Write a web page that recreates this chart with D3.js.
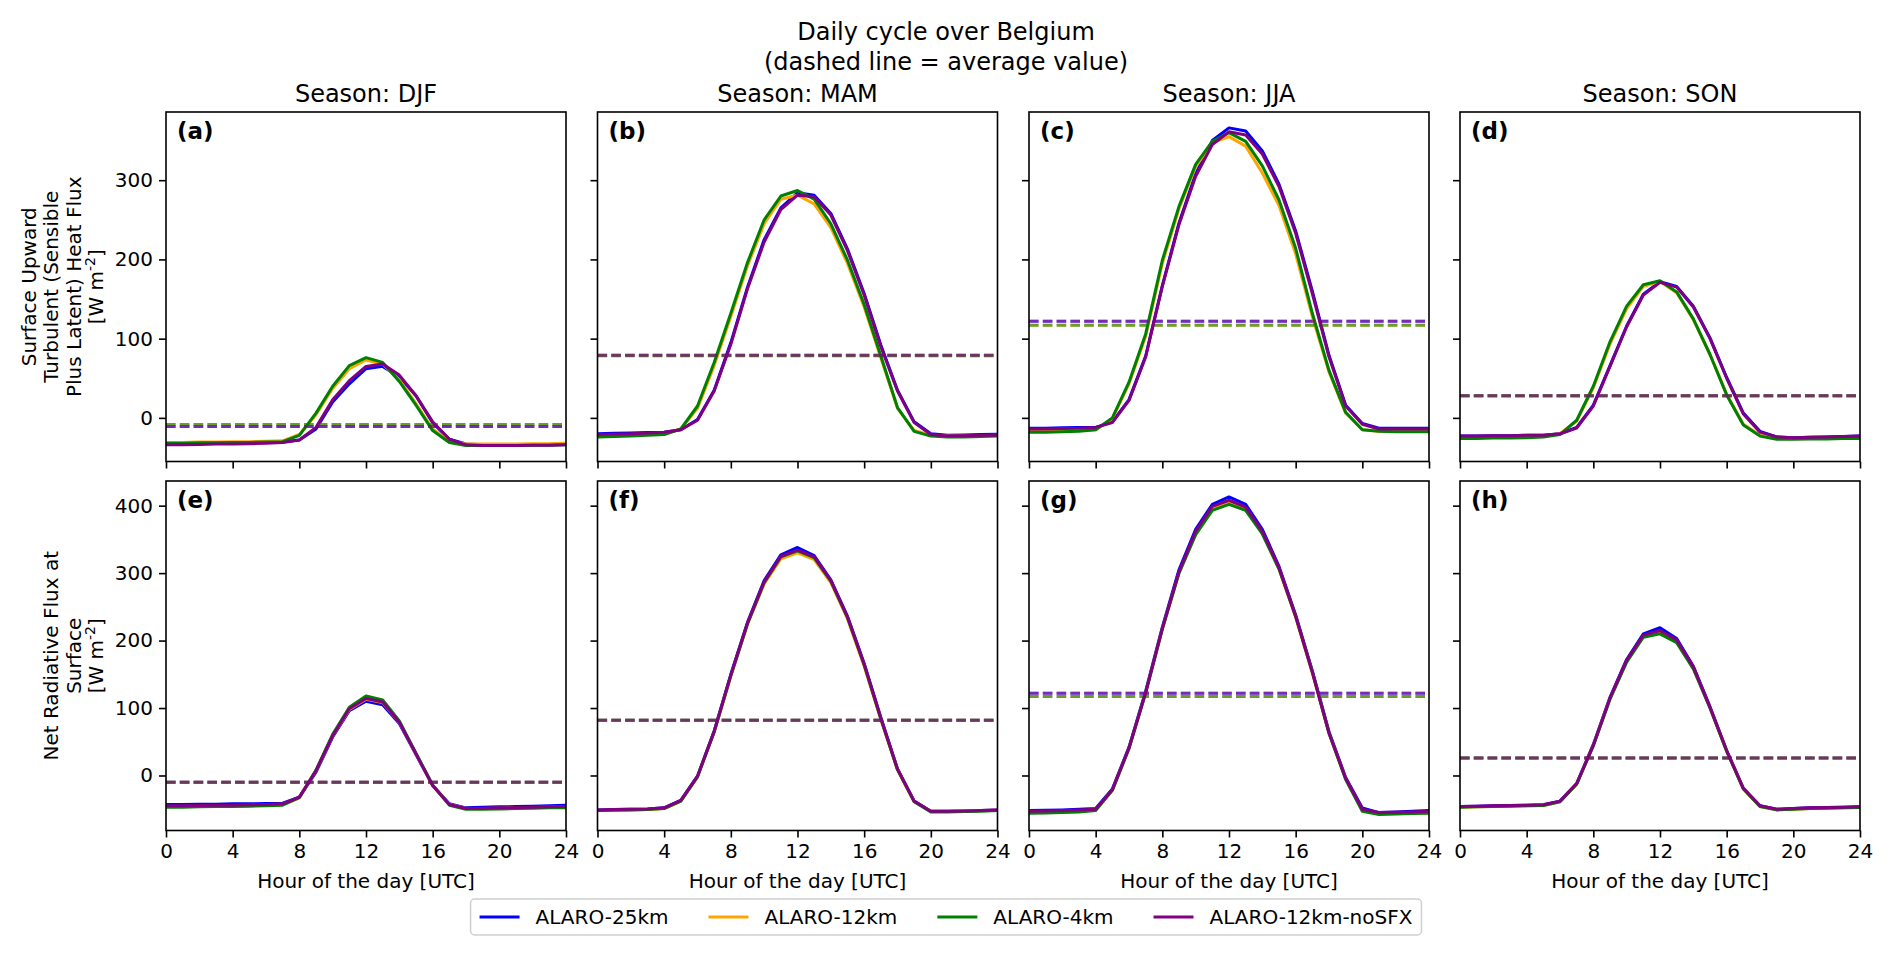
<!DOCTYPE html>
<html>
<head>
<meta charset="utf-8">
<script src="https://cdn.jsdelivr.net/npm/d3@7"></script>
<style>
  body { margin: 0; background: #fff; }
  text { font-family: "DejaVu Sans", sans-serif; fill: #000; }
</style>
</head>
<body>
<div id="chart"></div>
<script>
const hours = [0,1,2,3,4,5,6,7,8,9,10,11,12,13,14,15,16,17,18,19,20,21,22,23,24];
const models = ["ALARO-25km", "ALARO-12km", "ALARO-4km", "ALARO-12km-noSFX"];
const modelColors = ["blue", "orange", "green", "purple"];
const seasons = ["DJF", "MAM", "JJA", "SON"];
const panelTags = [["(a)", "(b)", "(c)", "(d)"], ["(e)", "(f)", "(g)", "(h)"]];
const hourTicks = [0, 4, 8, 12, 16, 20, 24];
const turbTicks = [0, 100, 200, 300];
const netTicks = [0, 100, 200, 300, 400];
const turbLabel = ["Surface Upward", "Turbulent (Sensible", "Plus Latent) Heat Flux"];
const netLabel = ["Net Radiative Flux at", "Surface"];

// surface turbulent heat flux, rows = models (25km, 12km, 4km, noSFX)
const turbDJF = [
  [-33,-33,-32.5,-32,-32,-31.5,-31,-30.5,-28,-14,20,43,62,65,52,28,-6,-27,-33,-34,-34,-34,-33.5,-33.5,-33],
  [-31,-31,-30.5,-30.5,-30,-30,-29.5,-29,-21,4,37,62,73,68,48,18,-14,-29,-33,-33,-33,-33,-32.5,-32.5,-32],
  [-32,-32,-31.5,-31.5,-31,-31,-30.5,-30,-22,6,40,66,76,70,46,16,-16,-31,-35,-35,-35,-35,-34.5,-34.5,-34],
  [-34,-34,-33.5,-33,-33,-32.5,-32,-31,-28,-12,23,47,65,68,54,28,-5,-27,-34,-35,-35,-35,-34.5,-34.5,-34]
];
const turbMAM = [
  [-20,-19.5,-19,-18.5,-18,-15,-2,35,95,165,225,265,284,281,258,213,157,92,35,-5,-20,-22,-21.5,-21,-20.5],
  [-23,-22.5,-22,-21,-20,-14,12,66,128,192,245,276,281,270,240,195,140,76,12,-16,-22,-23,-23,-22.5,-22],
  [-24,-23.5,-23,-22,-21,-14,15,70,132,196,250,280,287,276,245,199,143,78,13,-17,-23,-24,-24,-23.5,-23],
  [-21,-20.5,-20,-19,-18,-15,-3,34,93,163,222,263,281,279,256,211,155,90,34,-6,-21,-23,-22.5,-22,-22]
];
const turbJJA = [
  [-13,-13,-12.5,-12,-12,-5,23,78,167,246,308,350,366,362,337,295,236,160,79,16,-7,-13,-13,-13,-13],
  [-17,-17,-16.5,-16,-15,-1,43,103,195,264,317,347,355,343,309,268,207,128,58,6,-15,-17,-17,-17,-17],
  [-18,-18,-17.5,-17,-15,0,45,106,199,267,320,349,360,349,318,275,214,132,60,7,-15,-17,-17.5,-17.5,-17.5],
  [-14,-14,-13.5,-13,-12,-6,22,77,166,244,305,345,361,357,333,292,233,157,77,15,-8,-14,-14,-14,-14]
];
const turbSON = [
  [-23,-23,-22.5,-22.5,-22,-22,-20,-12,16,66,116,156,172,166,141,101,51,6,-17,-24,-25,-24.5,-24,-23.5,-23],
  [-25,-25,-24.5,-24.5,-24,-23,-20,-4,38,93,138,166,172,158,124,80,30,-8,-22,-26,-26,-25.5,-25.5,-25,-25],
  [-26,-26,-25.5,-25.5,-25,-24,-21,-3,40,96,141,168,173,159,125,80,29,-9,-23,-27,-27,-26.5,-26.5,-26,-26],
  [-23,-23,-22.5,-22.5,-22,-22,-20,-13,15,65,115,155,171,165,140,100,50,5,-18,-24,-25,-24.5,-24,-23.5,-23]
];
const turbMeans = [[-11, -8.5, -8.5, -11], [79, 78.5, 78.5, 79], [122, 117, 117, 122], [28, 28, 28, 28]];

// net radiative flux at surface
const netDJF = [
  [-43,-43,-42.5,-42.5,-42,-42,-41.5,-41,-32,5,57,96,110,105,77,31,-15,-42,-48,-47,-46.5,-46,-45.5,-45,-44],
  [-46,-46,-45.5,-45,-45,-44.5,-44,-43,-33,7,59,98,113,108,79,32,-15,-43,-49,-49,-48.5,-48,-47.5,-47,-46],
  [-47,-47,-46.5,-46,-46,-45.5,-45,-44,-33,8,61,101,118,112,81,33,-14,-44,-50,-50,-49.5,-49,-48.5,-48,-48],
  [-45,-45,-44.5,-44,-44,-43.5,-43,-42,-32,7,59,99,114,109,79,32,-15,-43,-49,-48.5,-48,-47.5,-47,-46.5,-46]
];
const netMAM = [
  [-51,-50.5,-50,-49.5,-48,-37,-1,66,150,227,289,327,338,326,290,236,166,86,10,-38,-53,-53,-52.5,-52,-51],
  [-52,-51.5,-51,-50.5,-49,-38,-2,64,147,224,284,321,330,320,286,232,162,83,8,-39,-53,-53,-52.5,-52,-51.5],
  [-52,-51.5,-51,-50.5,-49,-38,-2,65,148,225,286,324,333,323,288,234,164,84,9,-39,-54,-54,-53.5,-53,-52],
  [-51,-50.5,-50,-49.5,-48,-37,-1,65,149,226,287,325,334,324,289,235,165,85,9,-38,-53,-53,-52.5,-52,-51]
];
const netJJA = [
  [-52,-51.5,-51,-50,-49,-20,42,125,220,305,365,402,413,402,365,310,238,155,65,-3,-48,-55,-54,-53,-52],
  [-55,-54.5,-54,-53,-51,-22,40,122,217,300,358,396,405,396,360,306,234,152,62,-5,-51,-57,-56,-55.5,-55],
  [-56,-55.5,-55,-54,-52,-22,40,123,217,300,357,393,402,393,358,306,236,154,63,-6,-53,-58,-57,-56.5,-56],
  [-53,-52.5,-52,-51,-50,-21,41,123,218,302,362,399,408,398,362,308,236,153,63,-4,-50,-55,-54.5,-54,-53]
];
const netSON = [
  [-46,-45.5,-45,-44.5,-44,-43.5,-38,-12,46,116,172,210,219,203,162,102,37,-19,-45,-50,-49,-48,-47.5,-47,-46.5],
  [-47,-46.5,-46,-45.5,-45,-44.5,-39,-13,45,114,169,206,213,199,159,100,36,-20,-46,-51,-50,-49,-48.5,-48,-47.5],
  [-47,-46.5,-46,-45.5,-45,-44.5,-39,-13,44,113,168,205,210,197,158,100,36,-20,-46,-51,-50,-49,-48.5,-48,-47.5],
  [-46,-45.5,-45,-44.5,-44,-43.5,-38,-12,45,115,171,208,215,201,161,101,37,-19,-45,-50,-49,-48,-47.5,-47,-46.5]
];
const netMeans = [[-10, -10, -10, -10], [82, 82, 82, 82], [122, 117, 117, 122], [26, 26, 26, 26]];

const W = 1892, H = 956;
const colLeft = [166, 597.5, 1029, 1460];
const panelW = 400;
const rowTop = [112, 481];
const panelH = 349.5;

const rows = [
  { series: [turbDJF, turbMAM, turbJJA, turbSON], means: turbMeans, ticks: turbTicks, label: turbLabel },
  { series: [netDJF, netMAM, netJJA, netSON], means: netMeans, ticks: netTicks, label: netLabel }
];

const svg = d3.select("#chart").append("svg")
  .attr("width", W)
  .attr("height", H);
svg.append("rect").attr("width", W).attr("height", H).attr("fill", "#fff");

// figure title
svg.append("text").attr("x", 946).attr("y", 40).attr("text-anchor", "middle")
  .style("font-size", "24px").text("Daily cycle over Belgium");
svg.append("text").attr("x", 946).attr("y", 70).attr("text-anchor", "middle")
  .style("font-size", "24px").text("(dashed line = average value)");

const x = d3.scaleLinear().domain([0, 24]).range([0, panelW]);

rows.forEach((row, r) => {
  // shared y per row, 5% padding like matplotlib
  const all = row.series.flat(2).concat(row.means.flat());
  const lo = d3.min(all), hi = d3.max(all), pad = (hi - lo) * 0.05;
  const y = d3.scaleLinear().domain([lo - pad, hi + pad]).range([panelH, 0]);

  seasons.forEach((season, c) => {
    const g = svg.append("g")
      .attr("transform", `translate(${colLeft[c]},${rowTop[r]})`);

    if (r === 0) {
      svg.append("text")
        .attr("x", colLeft[c] + panelW / 2).attr("y", 102)
        .attr("text-anchor", "middle")
        .style("font-size", "24px")
        .text("Season: " + season);
    }

    const line = d3.line().x((d, i) => x(hours[i])).y(d => y(d));
    const data = row.series[c];
    models.forEach((m, k) => {
      g.append("path")
        .attr("d", line(data[k]))
        .attr("fill", "none")
        .attr("stroke", modelColors[k])
        .attr("stroke-width", 3)
        .attr("stroke-linejoin", "round");
      g.append("line")
        .attr("x1", 0).attr("x2", panelW)
        .attr("y1", y(row.means[c][k])).attr("y2", y(row.means[c][k]))
        .attr("stroke", modelColors[k])
        .attr("stroke-width", 3)
        .attr("stroke-dasharray", "9.6,4.2")
        .attr("opacity", 0.58);
    });

    // axes
    const xAxis = d3.axisBottom(x).tickValues(hourTicks).tickSize(7).tickPadding(6).tickSizeOuter(0);
    if (r === 0) xAxis.tickFormat("");
    g.append("g").attr("transform", `translate(0,${panelH})`).call(xAxis)
      .call(s => s.select(".domain").remove())
      .call(s => s.selectAll("line").attr("stroke-width", 1.6))
      .call(s => s.selectAll("text").style("font-size", "20px").attr("font-family", null));

    const yAxis = d3.axisLeft(y).tickValues(row.ticks).tickSize(7).tickPadding(6).tickSizeOuter(0);
    if (c > 0) yAxis.tickFormat("");
    g.append("g").call(yAxis)
      .call(s => s.select(".domain").remove())
      .call(s => s.selectAll("line").attr("stroke-width", 1.6))
      .call(s => s.selectAll("text").style("font-size", "20px").attr("font-family", null));

    g.append("rect")
      .attr("width", panelW).attr("height", panelH)
      .attr("fill", "none").attr("stroke", "#000").attr("stroke-width", 1.6);

    g.append("text")
      .attr("x", 11).attr("y", 27)
      .style("font-size", "23px").style("font-weight", "bold")
      .text(panelTags[r][c]);

    if (r === 1) {
      g.append("text")
        .attr("x", panelW / 2).attr("y", panelH + 57)
        .attr("text-anchor", "middle")
        .style("font-size", "20px")
        .text("Hour of the day [UTC]");
    }
  });

  // multi-line y label
  const lines = row.label.length + 1;
  const yl = svg.append("g")
    .attr("transform", `translate(103,${rowTop[r] + panelH / 2}) rotate(-90)`);
  row.label.forEach((txt, i) => {
    yl.append("text")
      .attr("x", 0).attr("y", -(lines - 1 - i) * 22.5)
      .attr("text-anchor", "middle")
      .style("font-size", "20px")
      .text(txt);
  });
  const unit = yl.append("text").attr("x", 0).attr("y", 0)
    .attr("text-anchor", "middle").style("font-size", "20px");
  unit.append("tspan").text("[W m");
  unit.append("tspan").attr("dy", -8).style("font-size", "14px").text("-2");
  unit.append("tspan").attr("dy", 8).text("]");
});

// legend
const leg = svg.append("g");
const box = leg.append("rect");
let cx = 0;
models.forEach((m, k) => {
  const it = leg.append("g").attr("transform", `translate(${cx},0)`);
  it.append("line").attr("x1", 0).attr("x2", 40).attr("y1", 0).attr("y2", 0)
    .attr("stroke", modelColors[k]).attr("stroke-width", 3);
  const t = it.append("text").attr("x", 56).attr("y", 7).style("font-size", "20px").text(m);
  const w = t.node().getComputedTextLength();
  cx += 56 + w + 40;
});
const legW = cx - 40 + 18;
box.attr("x", -9).attr("y", -18).attr("width", legW).attr("height", 36)
  .attr("rx", 4).attr("fill", "#fff").attr("fill-opacity", 0.8)
  .attr("stroke", "#cfcfcf").attr("stroke-width", 1.5);
leg.attr("transform", `translate(${946 - legW / 2 + 9},917)`);
</script>
</body>
</html>
